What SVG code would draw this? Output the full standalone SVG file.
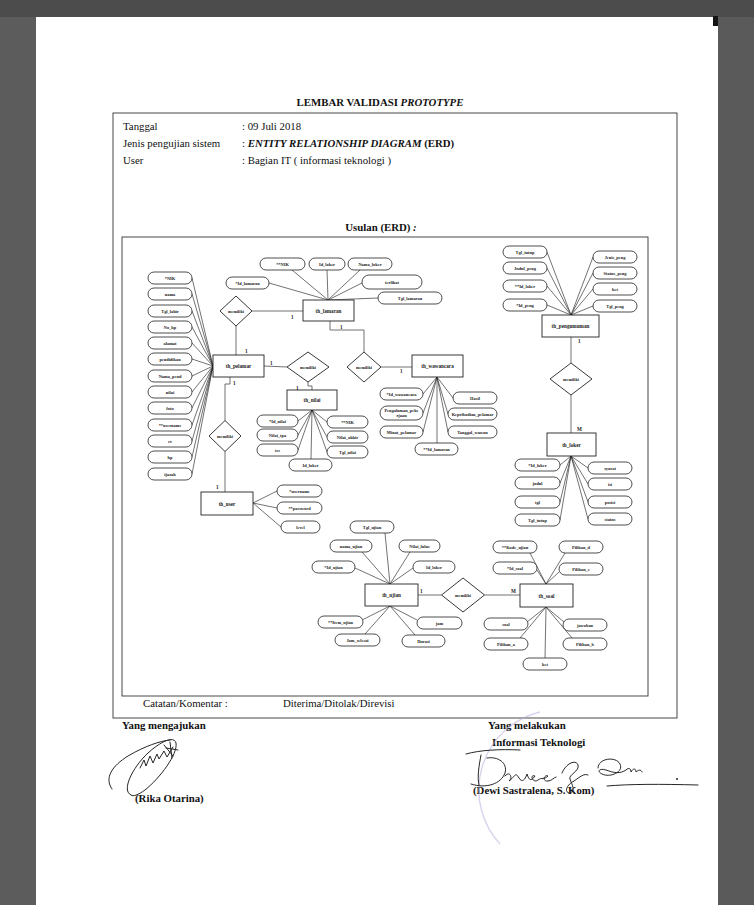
<svg xmlns="http://www.w3.org/2000/svg" width="754" height="905" viewBox="0 0 754 905">
<defs>
<style>
.doc{font-family:"Liberation Serif","Times New Roman",serif;fill:#111;font-size:10.8px}
.b{font-weight:bold}
.i{font-style:italic}
.ent rect{fill:#fff;stroke:#222;stroke-width:0.9}
.att rect{fill:#fff;stroke:#222;stroke-width:0.8}
.rel polygon{fill:#fff;stroke:#222;stroke-width:0.9}
.lbl{font-family:"Liberation Serif","Times New Roman",serif;font-weight:bold;fill:#1a1a1a;text-anchor:middle;dominant-baseline:central}
.el{font-size:5.2px}
.al{font-size:4.4px}
.rl{font-size:4.2px}
.card{font-family:"Liberation Serif","Times New Roman",serif;font-weight:bold;font-size:5.2px;fill:#1a1a1a}
#connectors line,#connectors polyline{stroke:#262626;stroke-width:0.65;fill:none}
.frame{fill:none;stroke:#333;stroke-width:0.9}
.sig{fill:none;stroke:#262626;stroke-width:1;stroke-linecap:round;stroke-linejoin:round}
</style>
</defs>
<rect x="0" y="0" width="754" height="905" fill="#ffffff"/>
<rect x="0" y="0" width="36" height="905" fill="#5c5c5c"/>
<rect x="718" y="0" width="36" height="905" fill="#5a5a5a"/>
<rect x="0" y="0" width="754" height="17" fill="#4c4c4c"/>
<rect x="713" y="16" width="5" height="10" fill="#151515"/>

<!-- document text -->
<text class="doc b" x="380" y="106" font-size="13.8" text-anchor="middle">LEMBAR VALIDASI <tspan class="i">PROTOTYPE</tspan></text>
<rect class="frame" x="113" y="113" width="564" height="605"/>
<text class="doc" x="123" y="130">Tanggal</text>
<text class="doc" x="242" y="130">: 09 Juli 2018</text>
<text class="doc" x="123" y="147">Jenis pengujian sistem</text>
<text class="doc" x="242" y="147">: <tspan class="b i">ENTITY RELATIONSHIP DIAGRAM</tspan> <tspan class="b"> (ERD)</tspan></text>
<text class="doc" x="123" y="164">User</text>
<text class="doc" x="242" y="164">: Bagian IT ( informasi teknologi )</text>
<text class="doc b" x="381" y="231" font-size="13" text-anchor="middle">Usulan (ERD) <tspan class="i">:</tspan></text>
<rect class="frame" x="122" y="237" width="526" height="459"/>
<text class="doc" x="143" y="707" font-size="13.5">Catatan/Komentar  :</text>
<text class="doc" x="283" y="707" font-size="13.5">Diterima/Ditolak/Direvisi</text>
<text class="doc b" x="122" y="729">Yang mengajukan</text>
<text class="doc b" x="135" y="802">(Rika Otarina)</text>
<text class="doc b" x="488" y="729">Yang melakukan</text>
<text class="doc b" x="492" y="746">Informasi Teknologi</text>
<text class="doc b" x="473" y="794">(Dewi Sastralena, S. Kom)</text>

<!-- stamp (faint) -->
<path d="M540,712 A80,80 0 0,0 500,844" fill="none" stroke="#b8a8de" stroke-width="1.4" opacity="0.5"/>

<!-- signatures -->
<g id="sig-rika" class="sig">
<path d="M112,789 C104,778 112,766 128,756 C145,746 160,741 170,740"/>
<path d="M131,795 C121,791 132,768 148,753 C160,742 174,735 176,743 C178,754 160,778 145,790 C138,795 133,797 131,795"/>
<path d="M140,768 l4,-8 l2,6 l4,-10 l3,7 l4,-9 l2,5 l5,-8 l3,6 l6,-10"/>
<path d="M164,745 l9,11 M170,742 l2,16 M178,750 l-12,-2"/>
</g>
<g id="sig-dewi" class="sig">
<path d="M466,754 C480,750 500,749 520,750"/>
<path d="M481,755 C479,766 477,777 479,785"/>
<path d="M471,784 C486,789 501,784 505,773 C508,763 498,756 487,758"/>
<path d="M505,776 c5,-6 8,2 4,5 c6,-4 6,-10 10,-3 c3,5 6,2 8,-4 c2,6 4,8 8,2 c-6,-2 -2,8 3,4 c4,-3 6,0 10,-4 c-4,-2 -6,6 0,5 c4,0 6,-4 8,-4"/>
<path d="M562,773 c4,-10 14,-14 16,-8 c2,6 -10,10 -8,14 c2,6 6,12 0,14 c-6,0 -4,-8 4,-12 c6,-4 10,-8 14,-6"/>
<path d="M598,768 c0,-10 18,-12 22,-4 c4,8 -10,14 -18,10 c-6,-3 -2,-6 4,-4 c8,3 14,4 20,0 c3,-3 5,-1 5,2 c2,-4 5,-4 5,0 c2,-2 5,-3 6,0"/>
<path d="M607,786 C630,784 660,784 698,785"/>
<circle cx="677" cy="779" r="1" fill="#262626" stroke="none"/>
</g>

<!-- connectors -->
<g id="connectors">
<line x1="192" y1="278" x2="213" y2="366"/>
<line x1="192" y1="294" x2="213" y2="366"/>
<line x1="192" y1="311" x2="213" y2="366"/>
<line x1="192" y1="327" x2="213" y2="366"/>
<line x1="192" y1="343" x2="213" y2="366"/>
<line x1="192" y1="359" x2="213" y2="366"/>
<line x1="192" y1="376" x2="213" y2="366"/>
<line x1="192" y1="392" x2="213" y2="366"/>
<line x1="192" y1="408" x2="213" y2="366"/>
<line x1="192" y1="425" x2="213" y2="366"/>
<line x1="192" y1="441" x2="213" y2="366"/>
<line x1="192" y1="457" x2="213" y2="366"/>
<line x1="192" y1="474" x2="213" y2="366"/>
<line x1="292" y1="270" x2="328" y2="300"/>
<line x1="327" y1="270" x2="328" y2="300"/>
<line x1="360" y1="270" x2="328" y2="300"/>
<line x1="269" y1="283" x2="328" y2="300"/>
<line x1="362" y1="283" x2="328" y2="300"/>
<line x1="378" y1="298" x2="328" y2="300"/>
<line x1="423" y1="394" x2="437" y2="377"/>
<line x1="423" y1="413" x2="437" y2="377"/>
<line x1="423" y1="432" x2="437" y2="377"/>
<line x1="437" y1="443" x2="437" y2="377"/>
<line x1="453" y1="398" x2="437" y2="377"/>
<line x1="448" y1="414" x2="437" y2="377"/>
<line x1="448" y1="432" x2="437" y2="377"/>
<line x1="298" y1="421" x2="312" y2="410"/>
<line x1="298" y1="435" x2="312" y2="410"/>
<line x1="298" y1="450" x2="312" y2="410"/>
<line x1="311" y1="459" x2="312" y2="410"/>
<line x1="327" y1="422" x2="312" y2="410"/>
<line x1="327" y1="437" x2="312" y2="410"/>
<line x1="327" y1="452" x2="312" y2="410"/>
<line x1="253" y1="503" x2="277" y2="491"/>
<line x1="253" y1="503" x2="277" y2="508"/>
<line x1="253" y1="503" x2="281" y2="527"/>
<line x1="547" y1="252" x2="571" y2="315"/>
<line x1="547" y1="268" x2="571" y2="315"/>
<line x1="547" y1="286" x2="571" y2="315"/>
<line x1="547" y1="305" x2="571" y2="315"/>
<line x1="593" y1="257" x2="571" y2="315"/>
<line x1="593" y1="273" x2="571" y2="315"/>
<line x1="593" y1="289" x2="571" y2="315"/>
<line x1="593" y1="306" x2="571" y2="315"/>
<line x1="560" y1="465" x2="571" y2="456"/>
<line x1="560" y1="483" x2="571" y2="456"/>
<line x1="560" y1="502" x2="571" y2="456"/>
<line x1="560" y1="520" x2="571" y2="456"/>
<line x1="588" y1="468" x2="571" y2="456"/>
<line x1="588" y1="484" x2="571" y2="456"/>
<line x1="588" y1="502" x2="571" y2="456"/>
<line x1="588" y1="519" x2="571" y2="456"/>
<line x1="385" y1="533" x2="390" y2="584"/>
<line x1="362" y1="552" x2="390" y2="584"/>
<line x1="410" y1="552" x2="390" y2="584"/>
<line x1="355" y1="568" x2="390" y2="584"/>
<line x1="413" y1="568" x2="390" y2="584"/>
<line x1="362" y1="620" x2="390" y2="606"/>
<line x1="365" y1="634" x2="390" y2="606"/>
<line x1="417" y1="620" x2="390" y2="606"/>
<line x1="415" y1="635" x2="390" y2="606"/>
<line x1="530" y1="553" x2="546" y2="584"/>
<line x1="537" y1="570" x2="546" y2="584"/>
<line x1="565" y1="553" x2="546" y2="584"/>
<line x1="559" y1="572" x2="546" y2="584"/>
<line x1="527" y1="622" x2="546" y2="607"/>
<line x1="520" y1="638" x2="546" y2="607"/>
<line x1="545" y1="658" x2="546" y2="607"/>
<line x1="564" y1="622" x2="546" y2="607"/>
<line x1="572" y1="638" x2="546" y2="607"/>
<line x1="236" y1="326" x2="236" y2="355"/>
<line x1="252" y1="311" x2="303" y2="311"/>
<line x1="264" y1="366" x2="287" y2="367"/>
<polyline points="308,382 308,386 312,386 312,390"/>
<polyline points="330,321 330,330 364,330 364,352"/>
<line x1="381" y1="367" x2="412" y2="367"/>
<polyline points="230,377 230,384 225,384 225,420.5"/>
<line x1="225" y1="451.5" x2="225" y2="492"/>
<line x1="571" y1="337" x2="571" y2="363"/>
<line x1="571" y1="395" x2="571" y2="433"/>
<line x1="418" y1="595" x2="441.5" y2="595"/>
<line x1="484.5" y1="595" x2="520" y2="595"/>
</g>

<!-- cardinalities -->
<g id="cardinalities">
<text class="card" x="245" y="353">1</text>
<text class="card" x="291" y="319">1</text>
<text class="card" x="270" y="365">1</text>
<text class="card" x="296" y="390">1</text>
<text class="card" x="340" y="329">1</text>
<text class="card" x="400" y="373">1</text>
<text class="card" x="233" y="385">1</text>
<text class="card" x="216" y="489">1</text>
<text class="card" x="578" y="343">1</text>
<text class="card" x="577" y="431">M</text>
<text class="card" x="420" y="593">1</text>
<text class="card" x="511" y="593">M</text>
</g>

<!-- relationships -->
<g id="rel-pelamar-lamaran" class="rel"><polygon points="220,311 236,296 252,311 236,326"/><text class="lbl rl" x="236" y="311">memiliki</text></g>
<g id="rel-pelamar-nilai" class="rel"><polygon points="287,367 308,352 329,367 308,382"/><text class="lbl rl" x="308" y="367">memiliki</text></g>
<g id="rel-lamaran-wawancara" class="rel"><polygon points="347,367 364,352 381,367 364,382"/><text class="lbl rl" x="364" y="367">memiliki</text></g>
<g id="rel-pelamar-user" class="rel"><polygon points="209,436 225,420.5 241,436 225,451.5"/><text class="lbl rl" x="225" y="436">memiliki</text></g>
<g id="rel-pengumuman-loker" class="rel"><polygon points="550,379 571,363 592,379 571,395"/><text class="lbl rl" x="571" y="379">memiliki</text></g>
<g id="rel-ujian-soal" class="rel"><polygon points="441.5,595 463,578 484.5,595 463,612"/><text class="lbl rl" x="463" y="595">memiliki</text></g>

<!-- entities -->
<g id="ent-pelamar" class="ent"><rect x="213" y="355" width="51" height="22"/><text class="lbl el" x="238.5" y="366">th_pelamar</text></g>
<g id="ent-lamaran" class="ent"><rect x="303" y="300" width="51" height="21"/><text class="lbl el" x="328.5" y="310.5">th_lamaran</text></g>
<g id="ent-wawancara" class="ent"><rect x="412" y="355" width="51" height="22"/><text class="lbl el" x="437.5" y="366">th_wawancara</text></g>
<g id="ent-nilai" class="ent"><rect x="287" y="390" width="50" height="20"/><text class="lbl el" x="312" y="400">th_nilai</text></g>
<g id="ent-user" class="ent"><rect x="201" y="492" width="52" height="23"/><text class="lbl el" x="227" y="503.5">th_user</text></g>
<g id="ent-pengumuman" class="ent"><rect x="542" y="315" width="57" height="22"/><text class="lbl el" x="570.5" y="326">th_pengumuman</text></g>
<g id="ent-loker" class="ent"><rect x="547" y="433" width="49" height="23"/><text class="lbl el" x="571.5" y="444.5">th_loker</text></g>
<g id="ent-ujian" class="ent"><rect x="365" y="584" width="53" height="22"/><text class="lbl el" x="391.5" y="595">th_ujian</text></g>
<g id="ent-soal" class="ent"><rect x="520" y="584" width="53" height="23"/><text class="lbl el" x="546.5" y="595.5">th_soal</text></g>

<!-- attributes: th_pelamar -->
<g id="att-pelamar-nik" class="att"><rect x="148" y="272" width="44" height="12" rx="6"/><text class="lbl al" x="170" y="278">*NIK</text></g>
<g id="att-pelamar-nama" class="att"><rect x="148" y="288" width="44" height="12" rx="6"/><text class="lbl al" x="170" y="294">nama</text></g>
<g id="att-pelamar-tgllahir" class="att"><rect x="148" y="305" width="44" height="12" rx="6"/><text class="lbl al" x="170" y="311">Tgl_lahir</text></g>
<g id="att-pelamar-nohp" class="att"><rect x="148" y="321" width="44" height="12" rx="6"/><text class="lbl al" x="170" y="327">No_hp</text></g>
<g id="att-pelamar-alamat" class="att"><rect x="148" y="337" width="44" height="12" rx="6"/><text class="lbl al" x="170" y="343">alamat</text></g>
<g id="att-pelamar-pendidikan" class="att"><rect x="148" y="353" width="44" height="12" rx="6"/><text class="lbl al" x="170" y="359">pendidikan</text></g>
<g id="att-pelamar-namapend" class="att"><rect x="148" y="370" width="44" height="12" rx="6"/><text class="lbl al" x="170" y="376">Nama_pend</text></g>
<g id="att-pelamar-nilai" class="att"><rect x="148" y="386" width="44" height="12" rx="6"/><text class="lbl al" x="170" y="392">nilai</text></g>
<g id="att-pelamar-foto" class="att"><rect x="148" y="402" width="44" height="12" rx="6"/><text class="lbl al" x="170" y="408">foto</text></g>
<g id="att-pelamar-username" class="att"><rect x="148" y="419" width="44" height="12" rx="6"/><text class="lbl al" x="170" y="425">**username</text></g>
<g id="att-pelamar-cv" class="att"><rect x="148" y="435" width="44" height="12" rx="6"/><text class="lbl al" x="170" y="441">cv</text></g>
<g id="att-pelamar-hp" class="att"><rect x="148" y="451" width="44" height="12" rx="6"/><text class="lbl al" x="170" y="457">hp</text></g>
<g id="att-pelamar-ijazah" class="att"><rect x="148" y="468" width="44" height="12" rx="6"/><text class="lbl al" x="170" y="474">ijazah</text></g>

<!-- attributes: th_lamaran -->
<g id="att-lamaran-nik" class="att"><rect x="260" y="258" width="45" height="12" rx="6"/><text class="lbl al" x="282.5" y="264">**NIK</text></g>
<g id="att-lamaran-idloker" class="att"><rect x="309" y="258" width="36" height="12" rx="6"/><text class="lbl al" x="327" y="264">Id_loker</text></g>
<g id="att-lamaran-namaloker" class="att"><rect x="348" y="258" width="44" height="12" rx="6"/><text class="lbl al" x="370" y="264">Nama_loker</text></g>
<g id="att-lamaran-id" class="att"><rect x="226" y="277" width="43" height="12" rx="6"/><text class="lbl al" x="247.5" y="283">*Id_lamaran</text></g>
<g id="att-lamaran-terlihat" class="att"><rect x="362" y="275" width="60" height="14" rx="7"/><text class="lbl al" x="392" y="282">terlihat</text></g>
<g id="att-lamaran-tgl" class="att"><rect x="378" y="292" width="64" height="12" rx="6"/><text class="lbl al" x="410" y="298">Tgl_lamaran</text></g>

<!-- attributes: th_wawancara -->
<g id="att-waw-id" class="att"><rect x="380" y="388" width="43" height="12" rx="6"/><text class="lbl al" x="401.5" y="394">*Id_wawancara</text></g>
<g id="att-waw-pengalaman" class="att"><rect x="380" y="406" width="43" height="14" rx="7"/><text class="lbl al" x="401.5" y="410.8">Pengalaman_peke</text><text class="lbl al" x="401.5" y="415.6">rjaan</text></g>
<g id="att-waw-minat" class="att"><rect x="380" y="426" width="43" height="12" rx="6"/><text class="lbl al" x="401.5" y="432">Minat_pelamar</text></g>
<g id="att-waw-idlamaran" class="att"><rect x="415" y="443" width="43" height="12" rx="6"/><text class="lbl al" x="436.5" y="449">**Id_lamaran</text></g>
<g id="att-waw-hasil" class="att"><rect x="453" y="392" width="44" height="12" rx="6"/><text class="lbl al" x="475" y="398">Hasil</text></g>
<g id="att-waw-kepribadian" class="att"><rect x="448" y="408" width="49" height="12" rx="6"/><text class="lbl al" x="472.5" y="414">Kepribadian_pelamar</text></g>
<g id="att-waw-tanggal" class="att"><rect x="448" y="426" width="49" height="12" rx="6"/><text class="lbl al" x="472.5" y="432">Tanggal_wawan</text></g>

<!-- attributes: th_nilai -->
<g id="att-nilai-id" class="att"><rect x="257" y="415" width="41" height="12" rx="6"/><text class="lbl al" x="277.5" y="421">*Id_nilai</text></g>
<g id="att-nilai-tpa" class="att"><rect x="257" y="429" width="41" height="12" rx="6"/><text class="lbl al" x="277.5" y="435">Nilai_tpa</text></g>
<g id="att-nilai-tes" class="att"><rect x="257" y="444" width="41" height="12" rx="6"/><text class="lbl al" x="277.5" y="450">tes</text></g>
<g id="att-nilai-idloker" class="att"><rect x="289" y="459" width="43" height="12" rx="6"/><text class="lbl al" x="310.5" y="465">Id_loker</text></g>
<g id="att-nilai-nik" class="att"><rect x="327" y="416" width="41" height="12" rx="6"/><text class="lbl al" x="347.5" y="422">**NIK</text></g>
<g id="att-nilai-akhir" class="att"><rect x="327" y="431" width="41" height="12" rx="6"/><text class="lbl al" x="347.5" y="437">Nilai_akhir</text></g>
<g id="att-nilai-tgl" class="att"><rect x="327" y="446" width="41" height="12" rx="6"/><text class="lbl al" x="347.5" y="452">Tgl_nilai</text></g>

<!-- attributes: th_user -->
<g id="att-user-username" class="att"><rect x="277" y="485" width="45" height="12" rx="6"/><text class="lbl al" x="299.5" y="491">*username</text></g>
<g id="att-user-password" class="att"><rect x="277" y="502" width="45" height="12" rx="6"/><text class="lbl al" x="299.5" y="508">**password</text></g>
<g id="att-user-level" class="att"><rect x="281" y="521" width="39" height="12" rx="6"/><text class="lbl al" x="300.5" y="527">level</text></g>

<!-- attributes: th_pengumuman -->
<g id="att-peng-tgltutup" class="att"><rect x="503" y="246" width="44" height="12" rx="6"/><text class="lbl al" x="525" y="252">Tgl_tutup</text></g>
<g id="att-peng-judul" class="att"><rect x="503" y="262" width="44" height="12" rx="6"/><text class="lbl al" x="525" y="268">Judul_peng</text></g>
<g id="att-peng-idloker" class="att"><rect x="503" y="280" width="44" height="12" rx="6"/><text class="lbl al" x="525" y="286">**Id_loker</text></g>
<g id="att-peng-id" class="att"><rect x="503" y="299" width="44" height="12" rx="6"/><text class="lbl al" x="525" y="305">*Id_peng</text></g>
<g id="att-peng-jenis" class="att"><rect x="593" y="251" width="44" height="12" rx="6"/><text class="lbl al" x="615" y="257">Jenis_peng</text></g>
<g id="att-peng-status" class="att"><rect x="593" y="267" width="44" height="12" rx="6"/><text class="lbl al" x="615" y="273">Status_peng</text></g>
<g id="att-peng-ket" class="att"><rect x="593" y="283" width="44" height="12" rx="6"/><text class="lbl al" x="615" y="289">ket</text></g>
<g id="att-peng-tgl" class="att"><rect x="593" y="300" width="44" height="12" rx="6"/><text class="lbl al" x="615" y="306">Tgl_peng</text></g>

<!-- attributes: th_loker -->
<g id="att-loker-id" class="att"><rect x="515" y="459" width="45" height="12" rx="6"/><text class="lbl al" x="537.5" y="465">*Id_loker</text></g>
<g id="att-loker-judul" class="att"><rect x="515" y="477" width="45" height="12" rx="6"/><text class="lbl al" x="537.5" y="483">judul</text></g>
<g id="att-loker-tgl" class="att"><rect x="515" y="496" width="45" height="12" rx="6"/><text class="lbl al" x="537.5" y="502">tgl</text></g>
<g id="att-loker-tgltutup" class="att"><rect x="515" y="514" width="45" height="12" rx="6"/><text class="lbl al" x="537.5" y="520">Tgl_tutup</text></g>
<g id="att-loker-syarat" class="att"><rect x="588" y="462" width="44" height="12" rx="6"/><text class="lbl al" x="610" y="468">syarat</text></g>
<g id="att-loker-isi" class="att"><rect x="588" y="478" width="44" height="12" rx="6"/><text class="lbl al" x="610" y="484">isi</text></g>
<g id="att-loker-posisi" class="att"><rect x="588" y="496" width="44" height="12" rx="6"/><text class="lbl al" x="610" y="502">posisi</text></g>
<g id="att-loker-status" class="att"><rect x="588" y="513" width="44" height="12" rx="6"/><text class="lbl al" x="610" y="519">status</text></g>

<!-- attributes: th_ujian -->
<g id="att-ujian-tgl" class="att"><rect x="350" y="521" width="44" height="12" rx="6"/><text class="lbl al" x="372" y="527">Tgl_ujian</text></g>
<g id="att-ujian-nama" class="att"><rect x="330" y="540" width="42" height="12" rx="6"/><text class="lbl al" x="351" y="546">nama_ujian</text></g>
<g id="att-ujian-nilailulus" class="att"><rect x="399" y="540" width="41" height="12" rx="6"/><text class="lbl al" x="419.5" y="546">Nilai_lulus</text></g>
<g id="att-ujian-id" class="att"><rect x="312" y="561" width="43" height="12" rx="6"/><text class="lbl al" x="333.5" y="567">*Id_ujian</text></g>
<g id="att-ujian-idloker" class="att"><rect x="413" y="561" width="42" height="12" rx="6"/><text class="lbl al" x="434" y="567">Id_loker</text></g>
<g id="att-ujian-item" class="att"><rect x="318" y="616" width="45" height="12" rx="6"/><text class="lbl al" x="340.5" y="622">**Item_ujian</text></g>
<g id="att-ujian-jamselesai" class="att"><rect x="335" y="634" width="45" height="12" rx="6"/><text class="lbl al" x="357.5" y="640">Jam_selesai</text></g>
<g id="att-ujian-jam" class="att"><rect x="417" y="617" width="45" height="12" rx="6"/><text class="lbl al" x="439.5" y="623">jam</text></g>
<g id="att-ujian-durasi" class="att"><rect x="402" y="635" width="43" height="12" rx="6"/><text class="lbl al" x="423.5" y="641">Durasi</text></g>

<!-- attributes: th_soal -->
<g id="att-soal-kode" class="att"><rect x="493" y="541" width="44" height="12" rx="6"/><text class="lbl al" x="515" y="547">**Kode_ujian</text></g>
<g id="att-soal-id" class="att"><rect x="493" y="562" width="44" height="12" rx="6"/><text class="lbl al" x="515" y="568">*Id_soal</text></g>
<g id="att-soal-d" class="att"><rect x="559" y="541" width="44" height="12" rx="6"/><text class="lbl al" x="581" y="547">Pilihan_d</text></g>
<g id="att-soal-c" class="att"><rect x="559" y="563" width="44" height="12" rx="6"/><text class="lbl al" x="581" y="569">Pilihan_c</text></g>
<g id="att-soal-soal" class="att"><rect x="484" y="618" width="44" height="12" rx="6"/><text class="lbl al" x="506" y="624">soal</text></g>
<g id="att-soal-a" class="att"><rect x="484" y="638" width="44" height="12" rx="6"/><text class="lbl al" x="506" y="644">Pilihan_a</text></g>
<g id="att-soal-ket" class="att"><rect x="523" y="658" width="44" height="12" rx="6"/><text class="lbl al" x="545" y="664">ket</text></g>
<g id="att-soal-jawaban" class="att"><rect x="563" y="619" width="44" height="12" rx="6"/><text class="lbl al" x="585" y="625">jawaban</text></g>
<g id="att-soal-b" class="att"><rect x="563" y="638" width="44" height="12" rx="6"/><text class="lbl al" x="585" y="644">Pilihan_b</text></g>
</svg>
